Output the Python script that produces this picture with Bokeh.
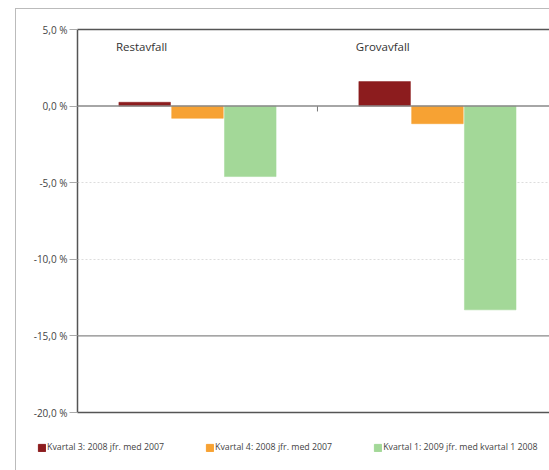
from bokeh.plotting import figure
from bokeh.layouts import column
from bokeh.models import (Range1d, LinearAxis, Legend, LegendItem,
                          Span, ColumnDataSource, FixedTicker)
from bokeh.core.properties import value
from bokeh.embed import file_html
from bokeh.resources import INLINE

categories = ["Restavfall", "Grovavfall"]
series_names = ["Kvartal 3: 2008 jfr. med 2007",
                "Kvartal 4: 2008 jfr. med 2007",
                "Kvartal 1: 2009 jfr. med kvartal 1 2008"]
kv3_2008 = [0.25, 1.6]
kv4_2008 = [-0.8, -1.15]
kv1_2009 = [-4.6, -13.3]
series_values = [kv3_2008, kv4_2008, kv1_2009]
colors = ["#8c1c1e", "#f7a233", "#a3d898"]
y_ticks = [5, 0, -5, -10, -15, -20]
y_tick_labels = ["5,0 %", "0,0 %", "-5,0 %", "-10,0 %", "-15,0 %", "-20,0 %"]

FONT = "Open Sans"

p = figure(width=533, height=410, output_backend="svg", toolbar_location=None,
           x_range=Range1d(0, 1.967), y_range=Range1d(-20, 5),
           min_border_left=61, min_border_top=20, min_border_bottom=7,
           min_border_right=0, x_axis_location=None, y_axis_location=None)
p.frame_align = False
p.outline_line_color = None
p.background_fill_color = "white"
p.border_fill_color = "white"

# y axis
yax = LinearAxis(ticker=FixedTicker(ticks=y_ticks),
                 major_label_overrides={t: l for t, l in zip(y_ticks, y_tick_labels)})
yax.axis_line_color = "#555555"
yax.axis_line_width = 1.5
yax.major_tick_line_color = "#aaaaaa"
yax.major_tick_out = 8
yax.major_tick_in = 0
yax.minor_tick_line_color = None
yax.major_label_text_font = FONT
yax.major_label_text_font_size = "10px"
yax.major_label_text_color = "#444444"
yax.major_label_standoff = 2
p.add_layout(yax, "left")

# top and bottom frame lines
for loc in ["above", "below"]:
    ax = LinearAxis(ticker=FixedTicker(ticks=[]))
    ax.axis_line_color = "#555555"
    ax.axis_line_width = 1.5
    ax.major_label_text_font_size = "0px"
    ax.major_tick_line_color = None
    ax.minor_tick_line_color = None
    ax.major_tick_out = 0
    ax.major_label_standoff = 0
    p.add_layout(ax, loc)

p.xgrid.visible = False
p.ygrid.ticker = FixedTicker(ticks=[-5, -10])
p.ygrid.grid_line_color = "#dddddd"
p.ygrid.grid_line_dash = "2 2"

p.add_layout(Span(location=-15, dimension="width", line_color="#888888", line_width=1.2))
p.add_layout(Span(location=0, dimension="width", line_color="#888888", line_width=1.5))

width = 0.22
for k, (vals, col) in enumerate(zip(series_values, colors)):
    xs = [i + 0.5 + (k - 1) * width for i in range(len(categories))]
    src = ColumnDataSource(dict(x=xs, top=vals))
    p.vbar(x="x", top="top", bottom=0, width=width - 0.005, source=src,
           fill_color=col, line_color=col, line_width=0.5)

# category boundary tick on zero line
bx = list(range(1, len(categories)))
p.segment(x0=bx, x1=bx, y0=[0] * len(bx), y1=[-0.35] * len(bx),
          line_color="#777777", line_width=1)

# category labels inside plot
lab_src = ColumnDataSource(dict(x=[i + 0.16 for i in range(len(categories))],
                                y=[3.9] * len(categories), t=categories))
p.text(x="x", y="y", text="t", source=lab_src, text_font=value(FONT),
       text_font_size="11.5px", text_color="#333333", text_baseline="middle",
       text_align="left")

# legend strip
p2 = figure(width=533, height=51, output_backend="svg", toolbar_location=None,
            x_range=Range1d(0, 1), y_range=Range1d(0, 1),
            min_border=0, x_axis_location=None, y_axis_location=None)
p2.frame_align = False
p2.outline_line_color = None
p2.xgrid.visible = False
p2.ygrid.visible = False
legend_renderers = []
for k, col in enumerate(colors):
    # zero-height swatch renderers: only the legend swatch is visible
    src = ColumnDataSource(dict(x=[1.5] * len(categories), top=[0] * len(categories)))
    r = p2.vbar(x="x", top="top", bottom=0, width=0.01, source=src,
                fill_color=col, line_color=col)
    legend_renderers.append(r)
legend = Legend(items=[LegendItem(label=n, renderers=[r]) for n, r in zip(series_names, legend_renderers)],
                orientation="horizontal", location=(21, 17), spacing=41,
                glyph_width=9, glyph_height=9, label_standoff=1,
                label_text_font=FONT, label_text_font_size="8.8px",
                label_text_color="#444444", border_line_color=None,
                background_fill_alpha=0, padding=0, margin=0)
p2.add_layout(legend, "center")

layout = column(p, p2, spacing=0)
layout.margin = (8, 0, 0, 15)
layout.styles = {"border-left": "1px solid #bbbbbb", "border-top": "1px solid #bbbbbb"}

open("out.html", "w").write(file_html(layout, INLINE))
